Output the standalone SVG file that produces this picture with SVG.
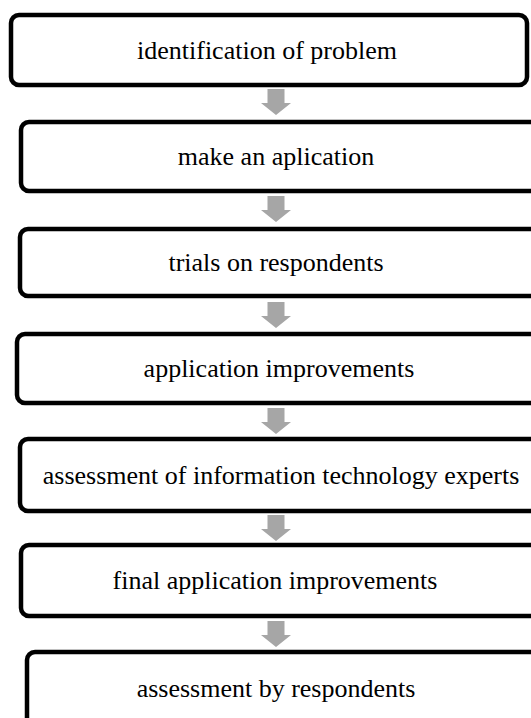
<svg xmlns="http://www.w3.org/2000/svg" width="531" height="718" viewBox="0 0 531 718">
  <style>
    .box { fill: #ffffff; stroke: #000000; stroke-width: 4.5; }
    .label { font-family: "Liberation Serif", "Times New Roman", serif; font-size: 26px; fill: #000000; text-anchor: middle; }
    .arrow { fill: #a6a6a6; }
  </style>
  <defs>
    <!-- block arrow pointing down, origin at shaft top centre -->
    <path id="down" d="M -8.5 0 H 8.5 V 14 H 15 L 0 26 L -15 14 H -8.5 Z"/>
  </defs>
  <rect width="531" height="718" fill="#ffffff"/>

  <g id="connectors" class="arrow">
    <use href="#down" x="276" y="89"/>
    <use href="#down" x="276" y="196"/>
    <use href="#down" x="276" y="302"/>
    <use href="#down" x="276" y="408"/>
    <use href="#down" x="276" y="515"/>
    <use href="#down" x="276" y="621"/>
  </g>

  <g id="step1">
    <rect class="box" x="11" y="15" width="516" height="70" rx="8"/>
    <text class="label" x="267" y="59">identification of problem</text>
  </g>
  <g id="step2">
    <rect class="box" x="21" y="122" width="520" height="69" rx="8"/>
    <text class="label" x="276" y="165">make an aplication</text>
  </g>
  <g id="step3">
    <rect class="box" x="20" y="229" width="520" height="67" rx="8"/>
    <text class="label" x="276" y="271">trials on respondents</text>
  </g>
  <g id="step4">
    <rect class="box" x="17" y="334" width="523" height="69" rx="8"/>
    <text class="label" x="279" y="377">application improvements</text>
  </g>
  <g id="step5">
    <rect class="box" x="20" y="439" width="520" height="72" rx="8"/>
    <text class="label" x="281" y="484">assessment of information technology experts</text>
  </g>
  <g id="step6">
    <rect class="box" x="21" y="545" width="520" height="71" rx="8"/>
    <text class="label" x="275" y="589">final application improvements</text>
  </g>
  <g id="step7">
    <rect class="box" x="27" y="652" width="514" height="80" rx="8"/>
    <text class="label" x="276" y="697">assessment by respondents</text>
  </g>
</svg>
